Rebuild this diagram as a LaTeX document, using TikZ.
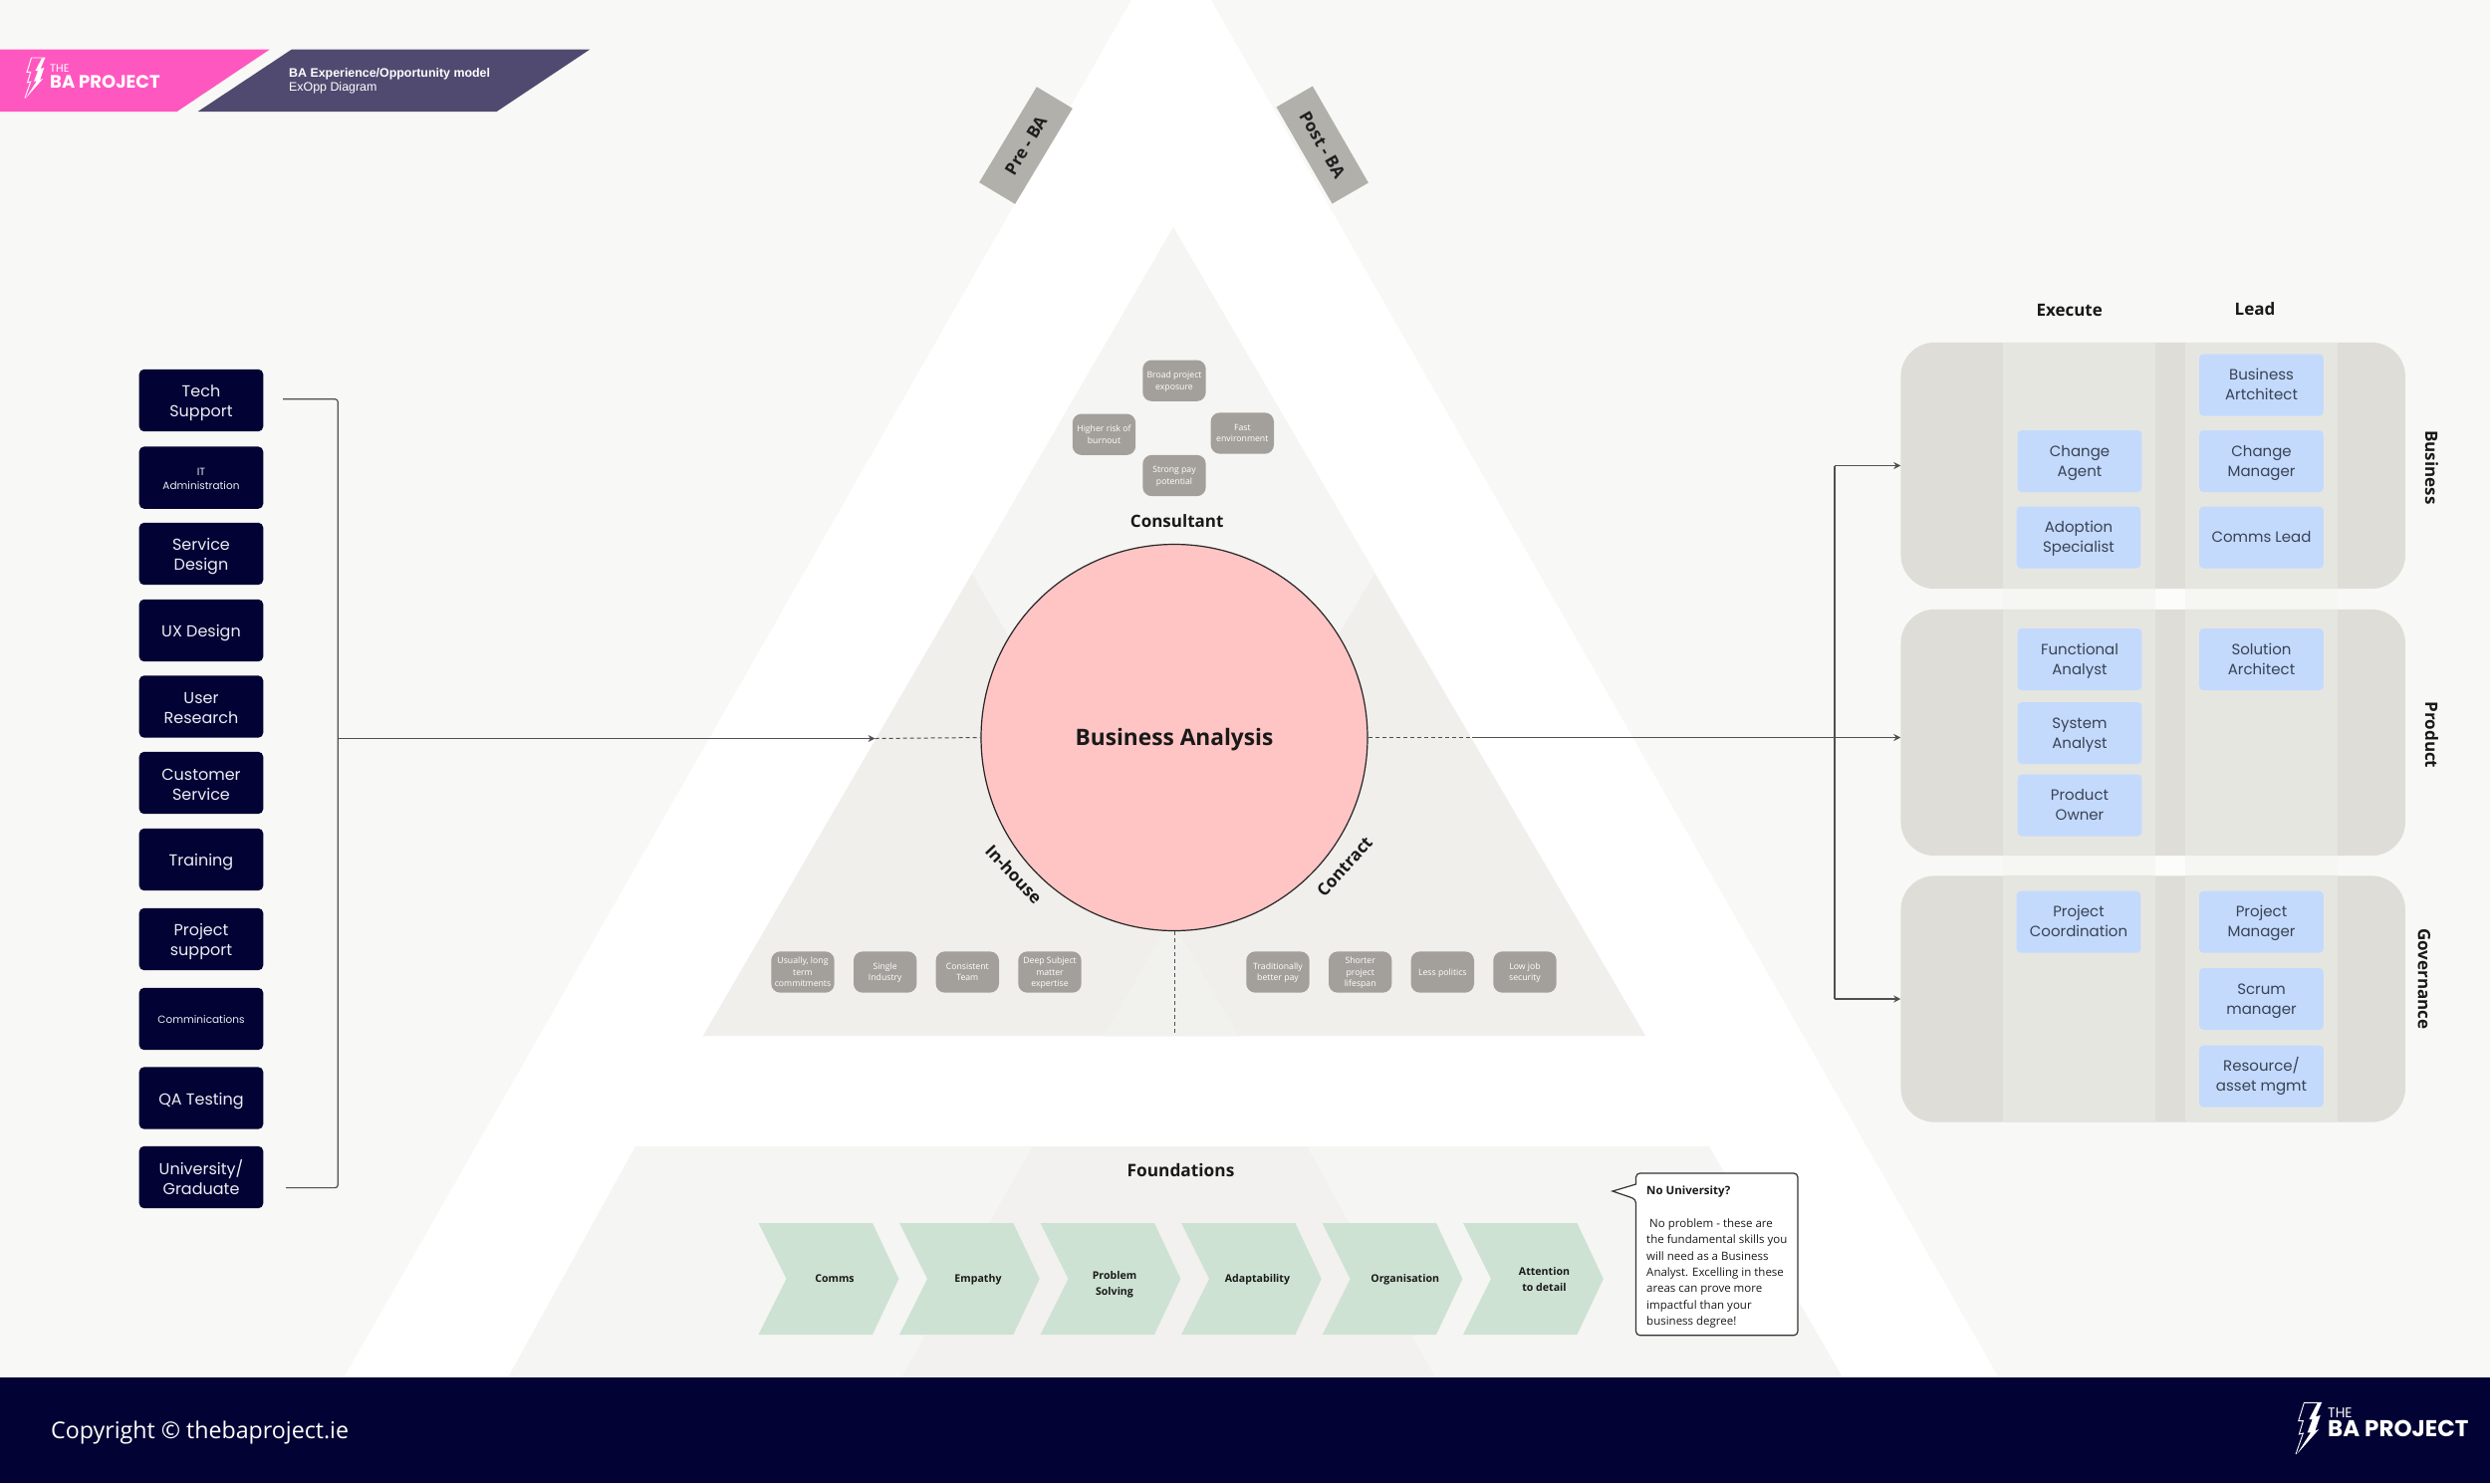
\documentclass[tikz,border=0pt]{standalone}
\usepackage{fontspec}
\usetikzlibrary{arrows.meta}
\setmainfont{Open Sans}
\newfontfamily\popp{Poppins}
\newfontfamily\libs{Liberation Sans}
\definecolor{bgc}{HTML}{F8F8F6}
\definecolor{tria}{HTML}{F5F5F3}
\definecolor{trib}{HTML}{F0EFEC}
\definecolor{tric}{HTML}{F1F1EE}
\definecolor{fnda}{HTML}{F5F5F3}
\definecolor{fndb}{HTML}{F2F1EF}
\definecolor{navy}{HTML}{020234}
\definecolor{pillc}{HTML}{A3A09B}
\definecolor{tagc}{HTML}{B2B0AB}
\definecolor{panelc}{HTML}{DEDDD7}
\definecolor{bandc}{HTML}{E6E6E1}
\definecolor{gapc}{HTML}{F6F6F3}
\definecolor{gapm}{HTML}{FCFCFB}
\definecolor{bluec}{HTML}{C3DAFC}
\definecolor{bluet}{HTML}{3A4256}
\definecolor{chevc}{HTML}{CDE2D3}
\definecolor{pinkc}{HTML}{FF57C0}
\definecolor{purpc}{HTML}{504A70}
\definecolor{pinkb}{HTML}{FFC4C4}
\definecolor{linec}{HTML}{505050}
\definecolor{navyt}{HTML}{ECECF4}
\newcommand{\tp}{\rule{0pt}{.94em}}
\newcommand{\tpn}{\rule{0pt}{1.13em}}
\newcommand{\bt}{\rule[-.24em]{0pt}{.24em}}
\tikzset{
  navybox/.style={fill=navy,rounded corners=5pt,minimum width=124.6pt,minimum height=62.4pt,inner sep=0pt,align=center,text=navyt,font=\popp\fontsize{16}{20}\selectfont},
  navysmall/.style={navybox,font=\popp\fontsize{10.5}{14}\selectfont},
  bluebox/.style={fill=bluec,rounded corners=4pt,minimum width=124.6pt,minimum height=62pt,inner sep=0pt,align=center,text=bluet,font=\popp\fontsize{15}{20}\selectfont},
  pill/.style={fill=pillc,rounded corners=9pt,minimum width=63.4pt,minimum height=41.3pt,inner sep=0pt,align=center,text=white,font=\fontsize{8.7}{11.8}\selectfont},
  heading/.style={inner sep=0pt,align=center,text=black!90,font=\bfseries\fontsize{17}{20}\selectfont},
  chevtext/.style={inner sep=0pt,align=center,text=black!90,font=\bfseries\fontsize{10.6}{16}\selectfont},
  tagbox/.style={fill=tagc,minimum width=42pt,minimum height=112pt,inner sep=0pt},
  panel/.style={fill=panelc,rounded corners=34pt,minimum width=506.5pt,minimum height=247.3pt,inner sep=0pt},
  conn/.style={draw=linec,line width=1.2pt},
  arrowc/.style={conn,-{Stealth[length=7pt,width=7pt]}},
  dashc/.style={draw=linec,line width=1pt,dash pattern=on 4pt off 3pt},
  plain/.style={inner sep=0pt,align=center}
}
\newcommand{\logomark}[3]{%
  \begin{scope}[shift={(#1,#2)},scale=#3]
    \draw[white,line width=0.9pt,line join=miter] (55,40) -- (108,40) (55,40) -- (38,95) -- (52,95) -- (40,135) -- (52,132) -- (30,195);
    \fill[white] (95,42) -- (108,40) -- (90,82) -- (104,78) -- (88,125) -- (100,120) -- (34,194) -- (75,130) -- (65,130) -- (80,90) -- (70,90) -- cycle;
  \end{scope}}
\newcommand{\chev}[1]{%
  \fill[chevc] (#1,1228) -- ++(114.4,0) -- ++(26.4,56) -- ++(-26.4,56) -- ++(-114.4,0) -- ++(28,-56) -- cycle;}
\begin{document}
\begin{tikzpicture}[x=1pt,y=-1pt]
\useasboundingbox (0,0) rectangle (2500,1489);
\clip (0,0) rectangle (2500,1489);
\fill[bgc] (0,0) rectangle (2500,1489);
% big white triangle
\fill[white] (1176,-70) -- (2006,1382) -- (346,1382) -- cycle;
% central triangle
\fill[tria] (1178,228) -- (1652,1040) -- (706,1040) -- cycle;
\fill[trib] (976,576) -- (1244,1040) -- (706,1040) -- cycle;
\fill[trib] (1380,576) -- (1652,1040) -- (1108,1040) -- cycle;
\fill[tric] (1176,923) -- (1244,1040) -- (1108,1040) -- cycle;
% foundations trapezoids
\fill[fnda] (638,1151) -- (1716,1151) -- (1850,1383) -- (510,1383) -- cycle;
\fill[fndb] (1037,1151) -- (1312,1151) -- (1441,1383) -- (905,1383) -- cycle;
% tags
\node[tagbox,rotate=-31] (pretag) at (1030,146) {};
\node[plain,rotate=59,text=black!88,font=\bfseries\fontsize{17}{20}\selectfont] (pretext) at (1030,146) {Pre - BA};
\node[tagbox,rotate=30] (posttag) at (1327.7,145.5) {};
\node[plain,rotate=-60,text=black!88,font=\bfseries\fontsize{17}{20}\selectfont] (posttext) at (1327.7,145.5) {Post - BA};
% banner
\fill[pinkc] (0,49.5) -- (271,49.5) -- (177.7,112) -- (0,112) -- cycle;
\fill[purpc] (293,49.5) -- (592.4,49.5) -- (498.7,112) -- (198.7,112) -- cycle;
\logomark{17.1}{47.5}{0.262}
\node[plain,anchor=west,text=white,font=\popp\fontsize{11}{13}\selectfont] (hthe) at (50,69) {THE};
\node[plain,anchor=west,text=white,font=\popp\bfseries\fontsize{18}{20}\selectfont] (hba) at (50,82) {BA PROJECT};
\node[plain,anchor=west,text=white,font=\libs\bfseries\fontsize{12.4}{14}\selectfont] (htitle) at (290,74) {BA Experience/Opportunity model};
\node[plain,anchor=west,text=white,font=\libs\fontsize{12.4}{14}\selectfont] (hsub) at (290,88) {ExOpp Diagram};
% left boxes
\node[navybox] (l1) at (202,402) {\tpn Tech\\Support\bt};
\node[navysmall] (l2) at (202,479.6) {\tpn IT\\Administration\bt};
\node[navybox] (l3) at (202,556) {\tpn Service\\Design\bt};
\node[navybox] (l4) at (202,633) {\tpn UX Design\bt};
\node[navybox] (l5) at (202,709.5) {\tpn User\\Research\bt};
\node[navybox] (l6) at (202,786) {\tpn Customer\\Service\bt};
\node[navybox] (l7) at (202,863) {\tpn Training\bt};
\node[navybox] (l8) at (202,943) {\tpn Project\\support\bt};
\node[navysmall] (l9) at (202,1023) {\tpn Comminications\bt};
\node[navybox] (l10) at (202,1102.5) {\tpn QA Testing\bt};
\node[navybox] (l11) at (202,1182) {\tpn University/\\Graduate\bt};
% bracket and connector
\coordinate (bt) at (284,400.7);
\coordinate (bb) at (287,1192.6);
\coordinate (bm) at (339.3,741.5);
\draw[conn,rounded corners=3pt] (bt) -- (bm |- bt) -- (bm |- bb) -- (bb);
% circle and links
\node[circle,draw=black!85,line width=1.2pt,fill=pinkb,minimum size=388pt,inner sep=0pt,text=black!90,align=center,font=\bfseries\fontsize{22.7}{26}\selectfont] (ba) at (1179,740.5) {\tp Business Analysis\bt};
\coordinate (intip) at (878.6,741.5);
\coordinate (outm) at (1478,740.5);
\coordinate (trunk) at (1842,740.5);
\coordinate (botm) at (1179,1040);
\draw[arrowc] (bm) -- (intip);
\draw[dashc] (intip) -- (ba.west);
\draw[dashc] (ba.east) -- (outm);
\draw[conn] (outm) -- (trunk);
\draw[dashc] (ba.south) -- (botm);
% panels
\fill[gapc] (2010.5,591) rectangle (2163.5,880);
\fill[gapc] (2193.6,591) rectangle (2347,880);
\fill[gapm] (2163.5,591) rectangle (2193.6,880);
\node[panel] (p1) at (2161.7,467.5) {};
\node[panel] (p2) at (2161.7,735.5) {};
\node[panel] (p3) at (2161.7,1003) {};
\foreach \a/\b in {344/591.2,612/859.2,879.5/1126.8}{
  \fill[bandc] (2010.5,\a) rectangle (2163.5,\b);
  \fill[bandc] (2193.6,\a) rectangle (2347,\b);
}
\draw[conn] (trunk |- p1.west) -- (trunk |- p3.west);
\draw[arrowc] (trunk |- p1.west) -- (p1.west);
\draw[arrowc] (trunk) -- (p2.west |- trunk);
\draw[arrowc] (trunk |- p3.west) -- (p3.west);
% headings
\node[heading] (hexec) at (2077.7,311.5) {Execute};
\node[heading] (hlead) at (2264,310) {Lead};
\node[heading,rotate=-90] (hbus) at (2441.5,469.4) {Business};
\node[heading,rotate=-90] (hprod) at (2441.5,738) {Product};
\node[heading,rotate=-90] (hgov) at (2434,983) {Governance};
% blue boxes
\node[bluebox] (b1) at (2270.5,386.5) {\tp Business\\Artchitect\bt};
\node[bluebox] (b2) at (2270.5,463) {\tp Change\\Manager\bt};
\node[bluebox] (b3) at (2270.5,539.5) {\tp Comms Lead\bt};
\node[bluebox] (b4) at (2088,463) {\tp Change\\Agent\bt};
\node[bluebox] (b5) at (2087,539.5) {\tp Adoption\\Specialist\bt};
\node[bluebox] (b6) at (2088,662) {\tp Functional\\Analyst\bt};
\node[bluebox] (b7) at (2270.5,662) {\tp Solution\\Architect\bt};
\node[bluebox] (b8) at (2088,736) {\tp System\\Analyst\bt};
\node[bluebox] (b9) at (2088,808.5) {\tp Product\\Owner\bt};
\node[bluebox] (b10) at (2087,925.7) {\tp Project\\Coordination\bt};
\node[bluebox] (b11) at (2270.5,925.7) {\tp Project\\Manager\bt};
\node[bluebox] (b12) at (2270.5,1003) {\tp Scrum\\manager\bt};
\node[bluebox] (b13) at (2270.5,1080.7) {\tp Resource/\\asset mgmt\bt};
% pills
\node[pill] (c1) at (1179,382.2) {\tp Broad project\\exposure\bt};
\node[pill] (c2) at (1108.5,436.2) {\tp Higher risk of\\burnout\bt};
\node[pill] (c3) at (1247.3,435) {\tp Fast\\environment\bt};
\node[pill] (c4) at (1179,477.5) {\tp Strong pay\\potential\bt};
\node[heading] (lcons) at (1181.7,522.7) {Consultant};
\node[pill] (i1) at (806,976) {\tp Usually, long\\term\\commitments\bt};
\node[pill] (i2) at (888.7,976) {\tp Single\\Industry\bt};
\node[pill] (i3) at (971.3,976) {\tp Consistent\\Team\bt};
\node[pill] (i4) at (1054,976) {\tp Deep Subject\\matter\\expertise\bt};
\node[pill] (k1) at (1283,976) {\tp Traditionally\\better pay\bt};
\node[pill] (k2) at (1365.7,976) {\tp Shorter\\project\\lifespan\bt};
\node[pill] (k3) at (1448.3,976) {\tp Less politics\bt};
\node[pill] (k4) at (1531,976) {\tp Low job\\security\bt};
\node[heading,rotate=-47] (linh) at (1018,878) {In-house};
\node[heading,rotate=48] (lcon) at (1350,870) {Contract};
% foundations
\node[heading,font=\bfseries\fontsize{17.3}{20}\selectfont] (lfnd) at (1185.5,1174.5) {Foundations};
\chev{761.6}\chev{903}\chev{1044.6}\chev{1186}\chev{1327.6}\chev{1469}
\node[chevtext] (f1) at (838,1284) {\tp Comms\bt};
\node[chevtext] (f2) at (982,1284) {\tp Empathy\bt};
\node[chevtext] (f3) at (1119,1288.5) {\tp Problem\\Solving\bt};
\node[chevtext] (f4) at (1262.5,1284) {\tp Adaptability\bt};
\node[chevtext] (f5) at (1410.7,1284) {\tp Organisation\bt};
\node[chevtext] (f6) at (1550.5,1285) {\tp Attention\\to detail\bt};
% callout
\draw[fill=white,draw=black!80,line width=1.2pt,rounded corners=4pt] (1642.5,1178) -- (1805,1178) -- (1805,1340.7) -- (1642.5,1340.7) -- (1642.5,1204) [sharp corners] -- (1619,1196) -- (1642.5,1189) [rounded corners=4pt] -- cycle;
\node[plain,anchor=north west,align=left,text=black!90,font=\fontsize{11.5}{16.4}\selectfont] (note) at (1653,1190.5) {\textbf{No University?}\\\mbox{}\\\ No problem - these are\\the fundamental skills you\\will need as a Business\\Analyst. Excelling in these\\areas can prove more\\impactful than your\\business degree!};
% footer
\fill[navy] (0,1382.5) rectangle (2500,1489);
\node[plain,anchor=west,text=white,font=\fontsize{23.2}{26}\selectfont] (copy) at (51,1438) {Copyright © thebaproject.ie};
\logomark{2295}{1395}{0.3333}
\node[plain,anchor=west,text=white,font=\popp\fontsize{14}{16}\selectfont] (fthe) at (2337,1418.3) {THE};
\node[plain,anchor=west,text=white,font=\popp\bfseries\fontsize{23}{26}\selectfont] (fba) at (2337,1434.6) {BA PROJECT};
\end{tikzpicture}
\end{document}
